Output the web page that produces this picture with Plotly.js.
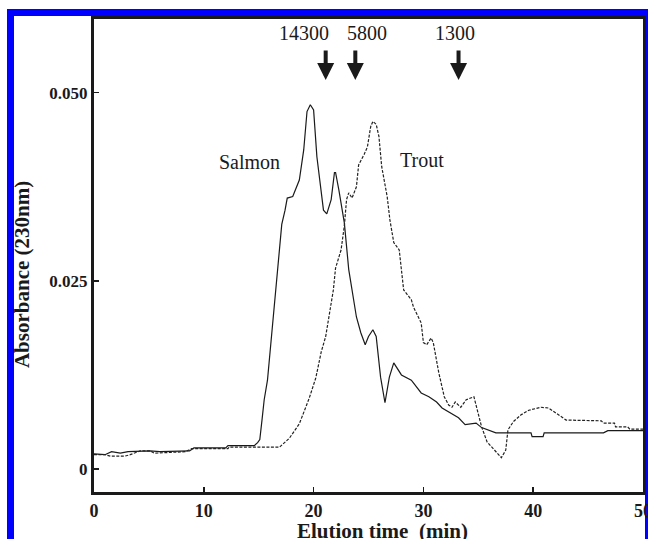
<!DOCTYPE html>
<html>
<head>
<meta charset="utf-8">
<script src="https://cdn.plot.ly/plotly-3.0.1.min.js"></script>
<style>
  html, body { margin: 0; padding: 0; width: 648px; height: 539px; overflow: hidden; background: #fff; }
  #frame { position: absolute; left: 7px; top: 9px; width: 631px; height: 620px; border: 7px solid #0000ff; z-index: 0; }
  #chart { position: absolute; left: 0; top: 0; width: 648px; height: 539px; z-index: 1; }
</style>
</head>
<body>
<div id="frame"></div>
<div id="chart"></div>
<script>
// Elution time (min) and absorbance (230 nm)
const salmonTime = [0, 1.0, 1.6, 2.4, 3.1, 4.2, 5.1, 6.0, 8.7, 9.1, 12.0, 12.2, 14.6, 14.9, 15.1, 15.3, 15.5, 15.8, 16.2, 16.7, 17.1, 17.4, 17.6, 18.1, 18.7, 19.1, 19.4, 19.7, 20.0, 20.3, 20.7, 20.9, 21.2, 21.6, 21.9, 22.0, 22.3, 22.8, 23.2, 23.9, 24.3, 24.7, 25.0, 25.4, 25.7, 26.1, 26.5, 26.9, 27.3, 28.0, 28.9, 29.8, 30.5, 31.2, 31.7, 32.5, 33.2, 33.8, 34.8, 35.3, 36.6, 39.8, 39.9, 40.9, 41.0, 46.4, 46.8, 50.0];
const salmonAbs  = [0.0020, 0.0019, 0.0023, 0.0021, 0.0023, 0.0024, 0.0024, 0.0023, 0.0024, 0.0028, 0.0028, 0.0031, 0.0031, 0.0035, 0.0039, 0.0065, 0.0092, 0.0118, 0.0185, 0.0258, 0.0325, 0.0344, 0.0360, 0.0362, 0.0384, 0.0424, 0.0475, 0.0484, 0.0477, 0.0415, 0.0362, 0.0344, 0.0339, 0.0358, 0.0394, 0.0394, 0.0371, 0.0327, 0.0265, 0.0202, 0.0181, 0.0165, 0.0176, 0.0185, 0.0176, 0.0122, 0.0088, 0.0122, 0.0141, 0.0125, 0.0118, 0.0101, 0.0096, 0.0089, 0.0081, 0.0074, 0.0068, 0.0059, 0.0061, 0.0055, 0.0048, 0.0048, 0.0043, 0.0043, 0.0048, 0.0048, 0.0051, 0.0051];

const troutTime = [0, 1.0, 1.5, 2.8, 3.3, 4.2, 5.1, 5.5, 8.3, 8.9, 12.2, 12.3, 16.9, 17.8, 18.7, 19.1, 19.6, 20.2, 20.7, 21.1, 21.4, 21.8, 22.0, 22.5, 22.8, 23.0, 23.2, 23.5, 23.9, 24.1, 24.6, 24.9, 25.2, 25.4, 25.7, 25.95, 26.2, 26.7, 26.95, 27.3, 27.8, 28.2, 28.9, 29.1, 29.8, 30.0, 30.3, 30.7, 30.9, 31.4, 31.9, 32.3, 32.6, 32.9, 33.4, 33.9, 34.6, 34.8, 35.3, 35.8, 36.6, 37.1, 37.5, 37.7, 38.2, 38.9, 39.6, 40.7, 41.4, 42.3, 43.0, 46.2, 46.4, 47.4, 47.5, 48.6, 48.8, 50.0];
const troutAbs  = [0.0019, 0.0019, 0.0017, 0.0017, 0.0019, 0.0024, 0.0024, 0.0021, 0.0023, 0.0027, 0.0027, 0.0029, 0.0029, 0.0041, 0.0060, 0.0076, 0.0094, 0.0121, 0.0156, 0.0176, 0.0205, 0.0238, 0.0267, 0.0291, 0.0323, 0.0358, 0.0367, 0.0360, 0.0375, 0.0404, 0.0418, 0.0428, 0.0455, 0.0462, 0.0458, 0.0442, 0.0402, 0.0362, 0.0331, 0.0301, 0.0291, 0.0238, 0.0225, 0.0215, 0.0194, 0.0168, 0.0165, 0.0174, 0.0168, 0.0128, 0.0096, 0.0085, 0.0082, 0.0089, 0.0082, 0.0092, 0.0096, 0.0085, 0.0056, 0.0036, 0.0023, 0.0015, 0.0025, 0.0052, 0.0063, 0.0072, 0.0078, 0.0082, 0.0081, 0.0072, 0.0065, 0.0064, 0.0061, 0.0061, 0.0056, 0.0056, 0.0053, 0.0053];

// molecular-weight markers (Da) and their elution times
const markerLabels = ['14300', '5800', '1300'];
const markerTimes  = [21.1, 23.8, 33.2];
const markerLabelShift = [-22, 12, -4];

const seriesNames = ['Salmon', 'Trout'];
const seriesLabelX = [14.2, 29.9];
const seriesLabelY = [0.0408, 0.0411];

const xTicks = [0, 10, 20, 30, 40, 50];
const yTicks = [0, 0.025, 0.05];
const yTickText = ['0', '0.025', '0.050'];
const xTitle = 'Elution time  (min)';
const yTitle = 'Absorbance (230nm)';

const serif = 'Liberation Serif, Times New Roman, serif';
const ink = '#1a1a1a';

const traces = [
  { x: salmonTime, y: salmonAbs, name: seriesNames[0], type: 'scatter', mode: 'lines',
    line: { color: ink, width: 1.2 } },
  { x: troutTime, y: troutAbs, name: seriesNames[1], type: 'scatter', mode: 'lines',
    line: { color: '#222', width: 1.2, dash: '3px,1.5px' } }
];

const annotations = [];
markerLabels.forEach((lab, i) => {
  annotations.push({ x: markerTimes[i], y: 0.0517, xref: 'x', yref: 'y', text: '',
    showarrow: true, ax: 0, ay: -31, arrowhead: 2, arrowsize: 0.85, arrowwidth: 4, arrowcolor: ink, standoff: 0 });
  annotations.push({ x: markerTimes[i], y: 0.0579, xref: 'x', yref: 'y', text: lab, xshift: markerLabelShift[i],
    showarrow: false, font: { family: serif, size: 20, color: ink } });
});
seriesNames.forEach((n, i) => {
  annotations.push({ x: seriesLabelX[i], y: seriesLabelY[i], xref: 'x', yref: 'y', text: n,
    showarrow: false, font: { family: serif, size: 20, color: ink } });
});
// axis titles placed like the reference (x title runs off the bottom edge)
annotations.push({ xref: 'paper', yref: 'paper', x: 0.525, y: -0.053, xanchor: 'center', yanchor: 'top',
  text: xTitle, showarrow: false, font: { family: serif, size: 21, weight: 'bold', color: ink } });
annotations.push({ xref: 'paper', yref: 'paper', x: -0.13, y: 0.46, xanchor: 'center', yanchor: 'middle',
  textangle: -90, text: yTitle, showarrow: false, font: { family: serif, size: 21, weight: 'bold', color: ink } });

const layout = {
  width: 648, height: 539,
  margin: { l: 94, r: 5, t: 19, b: 47 },
  paper_bgcolor: 'rgba(0,0,0,0)',
  plot_bgcolor: '#fff',
  showlegend: false,
  font: { family: serif, color: ink },
  xaxis: {
    range: [0, 50], tickvals: xTicks, ticks: 'inside', ticklen: 5, tickwidth: 1.5, tickcolor: ink,
    ticklabeloverflow: 'allow',
    showline: true, linewidth: 3, linecolor: ink, mirror: true, showgrid: false, zeroline: false,
    tickfont: { family: serif, size: 18, weight: 'bold', color: ink },
    automargin: false
  },
  yaxis: {
    range: [-0.00306, 0.0598], tickvals: yTicks, ticktext: yTickText, ticks: 'inside', ticklen: 5, tickwidth: 1.5, tickcolor: ink,
    showline: true, linewidth: 3, linecolor: ink, mirror: true, showgrid: false, zeroline: false,
    tickfont: { family: serif, size: 17, weight: 'bold', color: ink },
    automargin: false
  },
  annotations: annotations
};

Plotly.newPlot('chart', traces, layout, { displayModeBar: false, staticPlot: true });
</script>
</body>
</html>
